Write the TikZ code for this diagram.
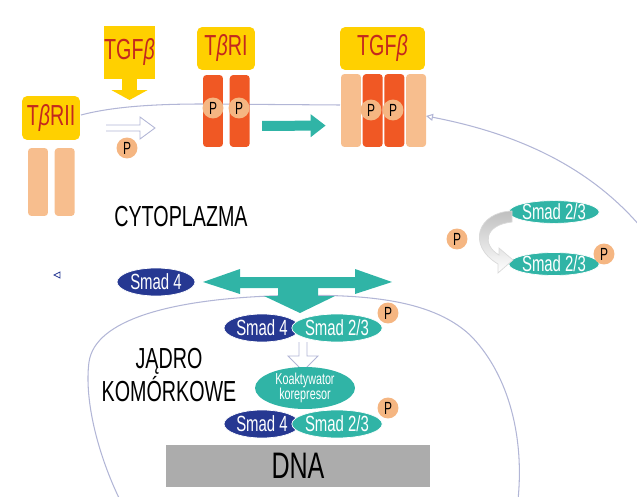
\documentclass[tikz,border=0pt]{standalone}
\usepackage{fontspec}
\setmainfont{Liberation Sans}[FakeStretch=0.68]
\usepackage{tikz}
\usetikzlibrary{shapes.geometric,arrows.meta,positioning}

\definecolor{boxYellow}{RGB}{255,208,0}
\definecolor{labelRed}{RGB}{196,40,30}
\definecolor{barPeach}{RGB}{247,190,142}
\definecolor{barRed}{RGB}{240,88,36}
\definecolor{phosPeach}{RGB}{245,182,130}
\definecolor{smadTeal}{RGB}{48,180,166}
\definecolor{smadBlue}{RGB}{38,56,146}
\definecolor{membraneLine}{RGB}{178,182,214}
\definecolor{dnaGray}{RGB}{172,172,172}

\begin{document}
\begin{tikzpicture}[x=0.02cm,y=-0.02cm,
  every node/.style={align=center,inner sep=0},
  yellowbox/.style={fill=boxYellow, rounded corners=3pt, text=labelRed, font=\fontsize{16.5}{18}\selectfont},
  peachbar/.style={fill=barPeach, rounded corners=2pt, minimum width=0.4cm},
  redbar/.style={fill=barRed, rounded corners=2pt, minimum width=0.4cm},
  phos/.style={circle, fill=phosPeach, minimum size=0.42cm, font=\fontsize{10}{10}\selectfont},
  smadFour/.style={ellipse, fill=smadBlue, draw=white, text=white, minimum width=1.56cm, minimum height=0.56cm, font=\fontsize{12.5}{13}\selectfont},
  smadTwo/.style={ellipse, fill=smadTeal, draw=white, text=white, minimum width=1.56cm, minimum height=0.56cm, font=\fontsize{12.5}{13}\selectfont},
  membrane/.style={draw=membraneLine, line width=0.6pt},
  hollow/.style={draw=membraneLine, fill=white, line width=0.5pt},
  flow/.style={draw=smadTeal, line width=0.2cm, -{Triangle[width=0.44cm,length=0.3cm]}},
  bigtext/.style={font=\fontsize{16.5}{19}\selectfont}]

\useasboundingbox (0,0) rectangle (637,497);

% cell membrane and nucleus outline
\draw[membrane] (81,115) .. controls (115,106) and (160,104) .. (203,104) -- (340,105);
\draw[membrane, {Triangle[open,length=4pt,width=4pt]}-] (426,116) .. controls (520,134) and (590,168) .. (640,226);
\draw[membrane] (120,500) .. controls (98,455) and (84,400) .. (89,362)
  .. controls (95,320) and (170,300) .. (270,296)
  .. controls (360,293) and (430,298) .. (470,335)
  .. controls (505,370) and (525,430) .. (518,500);
\draw[smadBlue, line width=0.4pt] (54,275) -- (60,272) -- (60,278) -- cycle;

% type II receptor
\node[yellowbox, minimum width=1.16cm, minimum height=0.88cm] (typeTwo) at (51,118) {T{\itshape β}RII};
\node[peachbar, minimum height=1.36cm] (typeTwoBarA) at (38,182) {};
\node[peachbar, minimum height=1.36cm, right=0.12cm of typeTwoBarA] (typeTwoBarB) {};

% ligand
\node[yellowbox, rounded corners=0pt, minimum width=0.9cm, minimum height=1.06cm] (ligand) at (129.5,52.5) {TGF{\itshape β}};
\coordinate (ligandTip) at (129.5,100);
\draw[draw=boxYellow, line width=0.32cm, -{Triangle[width=0.72cm,length=0.2cm]}] (ligand.south) -- (ligandTip);

\draw[hollow] (106,125) -- (140,125) -- (140,117) -- (155,128) -- (140,139) -- (140,131) -- (106,131);
\node[phos] (phosFree) at (127,148) {P};

% type I receptor
\node[yellowbox, minimum width=1.16cm, minimum height=0.86cm] (typeOne) at (226,48.5) {T{\itshape β}RI};
\node[redbar, minimum height=1.44cm] (typeOneBarA) at (213,111) {};
\node[redbar, minimum height=1.44cm, right=0.12cm of typeOneBarA] (typeOneBarB) {};
\node[phos] (phosOneA) at (213,108) {P};
\node[phos] (phosOneB) at (239,108) {P};

% active complex
\node[yellowbox, minimum width=1.7cm, minimum height=0.86cm] (complex) at (382.5,48.5) {TGF{\itshape β}};
\node[peachbar, minimum height=1.46cm] (complexBarA) at (351,110.5) {};
\node[redbar, minimum height=1.46cm, right=0.02cm of complexBarA] (complexBarB) {};
\node[redbar, minimum height=1.46cm, right=0.02cm of complexBarB] (complexBarC) {};
\node[peachbar, minimum height=1.46cm, right=0.02cm of complexBarC] (complexBarD) {};
\node[phos] (phosCplxA) at (371,110) {P};
\node[phos] (phosCplxB) at (393,110) {P};

\draw[flow, shorten <=0.24cm, shorten >=0.3cm] ([yshift=-0.3cm]typeOneBarB.east) -- ([yshift=-0.3cm]complexBarA.west);

\node[bigtext] (cytoplasm) at (181,217) {CYTOPLAZMA};

% Smad phosphorylation
\node[smadTwo, minimum height=0.44cm] (smadFree) at (554,212) {Smad 2/3};
\node[smadTwo, minimum height=0.46cm] (smadPhos) at (554,264) {Smad 2/3};
\node[phos] (phosSmad) at (604,254) {P};
\node[phos] (phosLoose) at (457,239) {P};
\draw[draw=gray!30, top color=gray!50, middle color=gray!8, bottom color=white]
  (512,211) .. controls (478,212) and (466,245) .. (498,264) -- (498,273) -- (513,260)
  -- (499,248) -- (499,255) .. controls (482,245) and (484,225) .. (512,222) -- cycle;

% translocation into the nucleus
\node[smadFour] (smadFourFree) at (156,282) {Smad 4};
\fill[smadTeal] (203,282) -- (240,269) -- (240,277) -- (355,277) -- (355,269) -- (392,282)
  -- (355,294) -- (355,288) -- (318,288) -- (318,296) -- (335,296) -- (300,313)
  -- (264,296) -- (278,296) -- (278,288) -- (240,288) -- (240,294) -- cycle;

\draw[hollow] (299,342) -- (299,356) -- (288,356) -- (303,371) -- (318,356) -- (307,356) -- (307,342);
\node[smadFour, minimum width=1.52cm] (smadFourNuc) at (262,328) {Smad 4};
\node[smadTwo, minimum width=1.52cm] (smadTwoNuc) at (337,328) {Smad 2/3};
\node[phos] (phosNuc) at (388,313) {P};

\node[bigtext] (nucleus) at (169,375) {JĄDRO\\KOMÓRKOWE};

\node[ellipse, fill=smadTeal, text=white, minimum width=2cm, minimum height=0.74cm,
  font=\fontsize{9}{8.5}\selectfont] (cofactor) at (305,388) {Koaktywator\\korepresor};
\node[smadFour, minimum width=1.52cm] (smadFourDna) at (262,424) {Smad 4};
\node[smadTwo, minimum width=1.52cm] (smadTwoDna) at (337,424) {Smad 2/3};
\node[phos] (phosDna) at (388,408) {P};

\node[fill=dnaGray, minimum width=5.28cm, minimum height=0.84cm, font=\fontsize{21}{22}\selectfont] (dna) at (298,466) {DNA};

\end{tikzpicture}
\end{document}
